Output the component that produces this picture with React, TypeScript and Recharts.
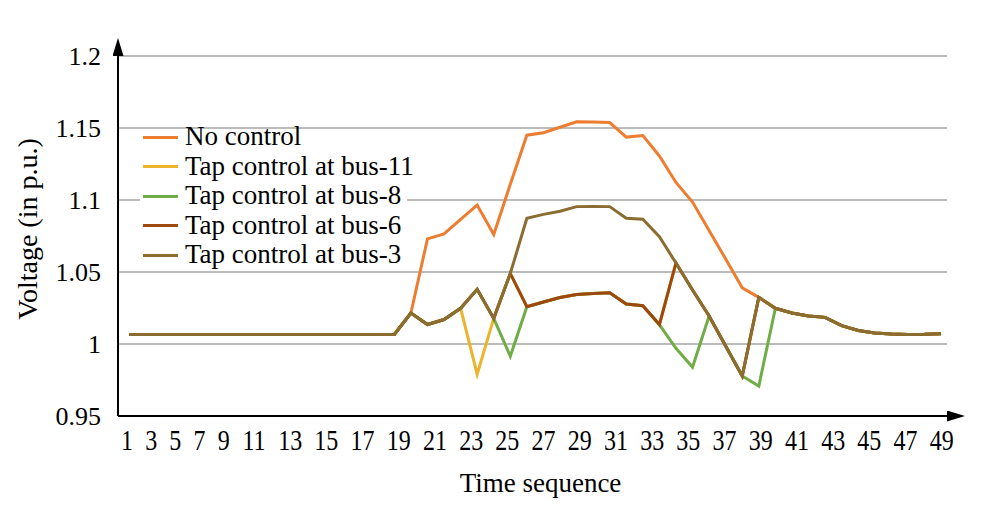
import React from "react";
import { LineChart, Line, XAxis, YAxis, CartesianGrid, Legend } from "recharts";

const FONT = '"Liberation Serif", "Times New Roman", Times, serif';

// time steps of the simulation (x of every point)
const timeSteps = [
  1, 2, 3, 4, 5, 6, 7, 8, 9, 10, 11, 12, 13, 14, 15, 16, 17, 18, 19, 20, 21, 22, 23, 24, 25,
  26, 27, 28, 29, 30, 31, 32, 33, 34, 35, 36, 37, 38, 39, 40, 41, 42, 43, 44, 45, 46, 47, 48, 49, 50,
];

const noControl = [
  1.0066, 1.0066, 1.0066, 1.0066, 1.0066, 1.0066, 1.0066, 1.0066, 1.0066, 1.0066, 1.0066, 1.0066,
  1.0066, 1.0066, 1.0066, 1.0066, 1.0066, 1.0215, 1.073, 1.0764, 1.0865, 1.0965, 1.076, 1.111,
  1.145, 1.1467, 1.1505, 1.1543, 1.1542, 1.1538, 1.1437, 1.1448, 1.1306, 1.1122, 1.0986, 1.0788,
  1.059, 1.039, 1.0324, 1.0248, 1.0215, 1.0195, 1.0185, 1.0128, 1.0094, 1.0076, 1.0069, 1.0066,
  1.0067, 1.0072,
];

const tapBus11 = [
  1.0066, 1.0066, 1.0066, 1.0066, 1.0066, 1.0066, 1.0066, 1.0066, 1.0066, 1.0066, 1.0066, 1.0066,
  1.0066, 1.0066, 1.0066, 1.0066, 1.0066, 1.0215, 1.0135, 1.017, 1.0248, 0.979, 1.0178, 1.049,
  1.0259, 1.0292, 1.0323, 1.0344, 1.0351, 1.0356, 1.0278, 1.0266, 1.0135, 1.0563, 1.0375, 1.0194,
  0.9986, 0.9778, 1.0324, 1.0248, 1.0215, 1.0195, 1.0185, 1.0128, 1.0094, 1.0076, 1.0069, 1.0066,
  1.0067, 1.0072,
];

const tapBus8 = [
  1.0066, 1.0066, 1.0066, 1.0066, 1.0066, 1.0066, 1.0066, 1.0066, 1.0066, 1.0066, 1.0066, 1.0066,
  1.0066, 1.0066, 1.0066, 1.0066, 1.0066, 1.0215, 1.0135, 1.017, 1.0248, 1.038, 1.0178, 0.9915,
  1.0259, 1.0292, 1.0323, 1.0344, 1.0351, 1.0356, 1.0278, 1.0266, 1.0135, 0.997, 0.9838, 1.0194,
  0.9986, 0.9778, 0.9708, 1.0248, 1.0215, 1.0195, 1.0185, 1.0128, 1.0094, 1.0076, 1.0069, 1.0066,
  1.0067, 1.0072,
];

const tapBus6 = [
  1.0066, 1.0066, 1.0066, 1.0066, 1.0066, 1.0066, 1.0066, 1.0066, 1.0066, 1.0066, 1.0066, 1.0066,
  1.0066, 1.0066, 1.0066, 1.0066, 1.0066, 1.0215, 1.0135, 1.017, 1.0248, 1.038, 1.0178, 1.049,
  1.0259, 1.0292, 1.0323, 1.0344, 1.0351, 1.0356, 1.0278, 1.0266, 1.0135, 1.0563, 1.0375, 1.0194,
  0.9986, 0.9778, 1.0324, 1.0248, 1.0215, 1.0195, 1.0185, 1.0128, 1.0094, 1.0076, 1.0069, 1.0066,
  1.0067, 1.0072,
];

const tapBus3 = [
  1.0066, 1.0066, 1.0066, 1.0066, 1.0066, 1.0066, 1.0066, 1.0066, 1.0066, 1.0066, 1.0066, 1.0066,
  1.0066, 1.0066, 1.0066, 1.0066, 1.0066, 1.0215, 1.0135, 1.017, 1.0248, 1.038, 1.0178, 1.049,
  1.0873, 1.09, 1.0922, 1.0954, 1.0955, 1.0954, 1.0873, 1.0866, 1.0745, 1.0563, 1.0375, 1.0194,
  0.9986, 0.9778, 1.0324, 1.0248, 1.0215, 1.0195, 1.0185, 1.0128, 1.0094, 1.0076, 1.0069, 1.0066,
  1.0067, 1.0072,
];

const voltageTicks = [0.95, 1, 1.05, 1.1, 1.15, 1.2];

const timeLabels = [
  "1", "3", "5", "7", "9", "11", "13", "15", "17", "19", "21", "23", "25",
  "27", "29", "31", "33", "35", "37", "39", "41", "43", "45", "47", "49",
];

// the original labels are set like one line of text, so they are spaced by
// glyph width (in time-step units) rather than aligned with the points
const FIRST_LABEL_AT = 0.86;
const DIGIT_W = 0.724;
const LABEL_GAP = 0.737;
const labelTicks: number[] = [];
timeLabels.forEach((label, i) => {
  if (i === 0) {
    labelTicks.push(FIRST_LABEL_AT);
    return;
  }
  const prev = timeLabels[i - 1];
  labelTicks.push(
    labelTicks[i - 1] + (prev.length * DIGIT_W) / 2 + LABEL_GAP + (label.length * DIGIT_W) / 2
  );
});

const series = [
  { key: "noControl", name: "No control", color: "#ED7D31", values: noControl },
  { key: "bus11", name: "Tap control at bus-11", color: "#EBB42C", values: tapBus11 },
  { key: "bus8", name: "Tap control at bus-8", color: "#70AD47", values: tapBus8 },
  { key: "bus6", name: "Tap control at bus-6", color: "#9E480E", values: tapBus6 },
  { key: "bus3", name: "Tap control at bus-3", color: "#8C6D31", values: tapBus3 },
];

const rows = timeSteps.map((t, i) => {
  const row: Record<string, number> = { t };
  series.forEach((s) => {
    row[s.key] = s.values[i];
  });
  return row;
});

function TimeTick({ x, y, index }: any) {
  return (
    <text
      transform={`translate(${x},${y}) scale(0.8,1)`}
      textAnchor="middle"
      dy="0.71em"
      fontSize={30}
      fontFamily={FONT}
      fill="#000"
    >
      {timeLabels[index]}
    </text>
  );
}

function VoltageTick({ x, y, payload }: any) {
  return (
    <text x={x} y={y} dy="0.355em" textAnchor="end" fontSize={26} fontFamily={FONT} fill="#000">
      {String(payload.value)}
    </text>
  );
}

function YTitle({ viewBox }: any) {
  const cx = viewBox.x + 27;
  const cy = viewBox.y + viewBox.height / 2 - 7;
  return (
    <text
      x={cx}
      y={cy}
      transform={`rotate(-90, ${cx}, ${cy})`}
      textAnchor="middle"
      dominantBaseline="central"
      fontSize={28}
      fontFamily={FONT}
      fill="#000"
    >
      Voltage (in p.u.)
    </text>
  );
}

function XTitle({ viewBox }: any) {
  return (
    <text
      x={viewBox.x + viewBox.width / 2 + 8}
      y={viewBox.y + 76}
      textAnchor="middle"
      fontSize={27}
      fontFamily={FONT}
      fill="#000"
    >
      Time sequence
    </text>
  );
}

function LegendBox({ payload }: any) {
  const items = [...(payload || [])].sort(
    (a: any, b: any) =>
      series.findIndex((s) => s.name === a.value) - series.findIndex((s) => s.name === b.value)
  );
  return (
    <div style={{ background: "#fff", width: 267, height: 140, fontFamily: FONT, fontSize: 27, color: "#000" }}>
      <div style={{ position: "relative", top: -7.75 }}>
        {items.map((item: any) => (
          <div
            key={item.value}
            style={{ display: "flex", alignItems: "center", height: 29.5, lineHeight: "29.5px", whiteSpace: "nowrap" }}
          >
            <span style={{ flex: "0 0 35px", height: 3, background: item.color, marginLeft: 3, marginRight: 7 }} />
            <span>{item.value}</span>
          </div>
        ))}
      </div>
    </div>
  );
}

export default function App() {
  return (
    <div style={{ position: "absolute", left: 0, top: 0, width: 985, height: 506, background: "#fff" }}>
      <svg width={0} height={0} style={{ position: "absolute" }}>
        <defs>
          <marker
            id="axisArrow"
            markerUnits="userSpaceOnUse"
            markerWidth={18}
            markerHeight={11}
            refX={0}
            refY={5.5}
            orient="auto-start-reverse"
            viewBox="0 0 18 11"
          >
            <path d="M0,0 L18,5.5 L0,11 Z" fill="#000" />
          </marker>
        </defs>
      </svg>
      <LineChart width={985} height={506} data={rows} margin={{ top: 56, right: 38, bottom: 0, left: 0 }}>
        <CartesianGrid vertical={false} stroke="#A6A6A6" strokeWidth={1.5} />
        <XAxis
          dataKey="t"
          type="number"
          domain={[0.32, 50.36]}
          allowDataOverflow
          ticks={labelTicks}
          interval={0}
          height={90}
          tickLine={false}
          tickSize={0}
          tickMargin={13}
          axisLine={{ stroke: "#000", strokeWidth: 2, markerEnd: "url(#axisArrow)" }}
          tick={(p: any) => <TimeTick {...p} />}
          label={(p: any) => <XTitle {...p} />}
        />
        <YAxis
          type="number"
          domain={[0.95, 1.2]}
          ticks={voltageTicks}
          allowDataOverflow
          width={118}
          tickLine={false}
          tickSize={0}
          tickMargin={17}
          axisLine={{ stroke: "#000", strokeWidth: 2, markerStart: "url(#axisArrow)" }}
          tick={(p: any) => <VoltageTick {...p} />}
          label={(p: any) => <YTitle {...p} />}
        />
        <Legend
          layout="vertical"
          align="center"
          verticalAlign="middle"
          content={(p: any) => <LegendBox {...p} />}
          wrapperStyle={{ left: 140, top: 130, width: 267, height: 140 }}
        />
        {series.map((s) => (
          <Line
            key={s.key}
            type="linear"
            dataKey={s.key}
            name={s.name}
            stroke={s.color}
            strokeWidth={3}
            dot={false}
            activeDot={false}
            isAnimationActive={false}
          />
        ))}
      </LineChart>
    </div>
  );
}
